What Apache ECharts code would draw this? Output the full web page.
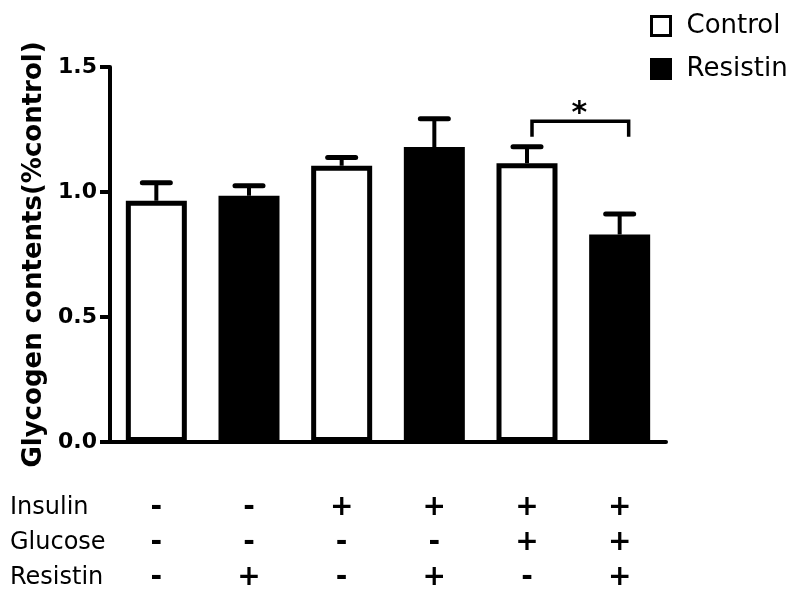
<!DOCTYPE html>
<html><head><meta charset="utf-8">
<script src="https://cdn.jsdelivr.net/npm/echarts@6/dist/echarts.min.js"></script>
<style>html,body{margin:0;padding:0;background:#fff}#c{width:800px;height:596px}</style>
</head><body><div id="c"></div>
<script>
// ---- data ----
const insulin  = ['-','-','+','+','+','+'];
const glucose  = ['-','-','-','-','+','+'];
const resistin = ['-','+','-','+','-','+'];
const groups   = ['Control','Resistin','Control','Resistin','Control','Resistin'];
const means    = [0.965, 0.985, 1.105, 1.18, 1.115, 0.83];
const sems     = [0.072, 0.040, 0.033, 0.113, 0.066, 0.082];
const yMin = 0, yMax = 1.5, yStep = 0.5;
const rowLabels = ['Insulin', 'Glucose', 'Resistin'];
const seriesNames = ['Control', 'Resistin'];
const yTitle = 'Glycogen contents(%control)';
const sigPair = [4, 5];
const sigLevels = [1.283, 1.221];
const sigMark = '*';

// ---- build ----
const categories = insulin.map((v, i) => v + glucose[i] + resistin[i]);
const FONT = '"DejaVu Sans", sans-serif';
const chart = echarts.init(document.getElementById('c'));

const barSeries = seriesNames.map(name => ({
  name, type: 'bar', barWidth: 61, barGap: '-100%',
  data: means.map((v, i) => groups[i] === name ? v : null),
  itemStyle: { color: name === 'Control' ? '#fff' : '#000', borderColor: '#000', borderWidth: 5 },
  z: 2
}));

const rowY = [506, 541, 576];

chart.setOption({
  animation: false,
  backgroundColor: '#fff',
  grid: { left: 110, right: 134, top: 67, bottom: 154, containLabel: false },
  legend: {
    orient: 'vertical', left: 650, top: 13, padding: 0,
    itemWidth: 19, itemHeight: 19, itemGap: 17, icon: 'rect',
    textStyle: { fontFamily: FONT, fontSize: 26, color: '#000', padding: [0, 0, 0, 11] },
    data: [
      { name: 'Control', itemStyle: { color: '#fff', borderColor: '#000', borderWidth: 3 } },
      { name: 'Resistin', itemStyle: { color: '#000', borderColor: '#000', borderWidth: 3 } }
    ]
  },
  xAxis: {
    type: 'category', data: categories,
    axisLine: { lineStyle: { color: '#000', width: 4 } },
    axisTick: { alignWithLabel: true, length: 12, lineStyle: { color: '#000', width: 3 } },
    axisLabel: {
      interval: 0, margin: 48, lineHeight: 35, fontSize: 28, fontWeight: 'bold',
      fontFamily: FONT, color: '#000',
      formatter: v => v.split('').join('\n')
    },
    splitLine: { show: false }
  },
  yAxis: {
    type: 'value', min: yMin, max: yMax, interval: yStep,
    name: yTitle, nameLocation: 'middle', nameGap: 62, nameRotate: 90,
    nameTextStyle: { fontFamily: FONT, fontSize: 26, fontWeight: 'bold', color: '#000' },
    axisLine: { show: true, lineStyle: { color: '#000', width: 4 } },
    axisTick: { show: true, length: 10, lineStyle: { color: '#000', width: 4 } },
    axisLabel: { margin: 13, fontFamily: FONT, fontSize: 22, fontWeight: 'bold', color: '#000',
      formatter: v => v.toFixed(1) },
    splitLine: { show: false }
  },
  series: [
    ...barSeries,
    {
      type: 'custom', name: 'error', z: 3, silent: true,
      data: means.map((m, i) => [i, m, sems[i]]),
      encode: { x: 0, y: 1 },
      renderItem(params, api) {
        const i = api.value(0), m = api.value(1), s = api.value(2);
        const p0 = api.coord([i, m]);
        const p1 = api.coord([i, m + s]);
        return { type: 'group', children: [
          { type: 'line', shape: { x1: p0[0], y1: p0[1], x2: p1[0], y2: p1[1] },
            style: { stroke: '#000', lineWidth: 4 } },
          { type: 'line', shape: { x1: p1[0] - 14, y1: p1[1], x2: p1[0] + 14, y2: p1[1] },
            style: { stroke: '#000', lineWidth: 5, lineCap: 'round' } }
        ]};
      }
    },
    {
      type: 'custom', name: 'sig', z: 3, silent: true,
      data: [[sigPair[0], sigPair[1], sigLevels[0], sigLevels[1]]],
      encode: { x: [0, 1], y: [2, 3] },
      renderItem(params, api) {
        const a = api.coord([api.value(0), api.value(2)]);
        const b = api.coord([api.value(1), api.value(2)]);
        const c = api.coord([api.value(0), api.value(3)]);
        const xa = a[0] + 5, xb = b[0] + 9;
        return { type: 'group', children: [
          { type: 'polyline', shape: { points: [[xa, c[1]], [xa, a[1]], [xb, a[1]], [xb, c[1]]] },
            style: { stroke: '#000', lineWidth: 3.5, fill: null } },
          { type: 'text', x: (xa + xb) / 2 - 1, y: a[1] - 7,
            style: { text: sigMark, font: 'bold 30px ' + FONT, fill: '#000',
              textAlign: 'center', textVerticalAlign: 'middle', align: 'center', verticalAlign: 'middle' } }
        ]};
      }
    }
  ],
  graphic: rowLabels.map((t, k) => ({
    type: 'text', left: 10, top: rowY[k] - 10,
    style: { text: t, font: '24px ' + FONT, fill: '#000' }
  }))
});
</script>
</body></html>
